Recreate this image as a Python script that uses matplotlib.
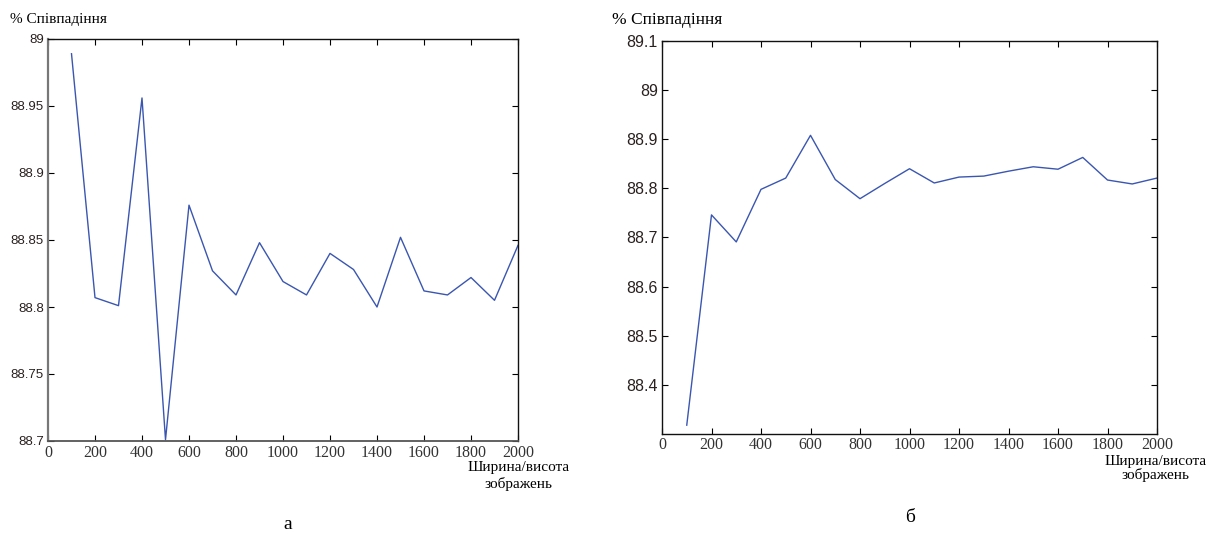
import matplotlib
matplotlib.use('Agg')
import matplotlib.pyplot as plt
import numpy as np

W, H = 1214, 535

sizes = list(range(100, 2001, 100))
match_a = [88.989, 88.807, 88.801, 88.956, 88.701, 88.876, 88.827, 88.809,
           88.848, 88.819, 88.809, 88.840, 88.828, 88.800, 88.852, 88.812,
           88.809, 88.822, 88.805, 88.846]
match_b = [88.318, 88.746, 88.691, 88.798, 88.821, 88.908, 88.818, 88.779,
           88.810, 88.840, 88.811, 88.823, 88.825, 88.835, 88.844, 88.839,
           88.863, 88.817, 88.809, 88.821]

xticks = list(range(0, 2001, 200))
yticks_a = [88.7, 88.75, 88.8, 88.85, 88.9, 88.95, 89.0]
ylabels_a = ['88.7', '88.75', '88.8', '88.85', '88.9', '88.95', '89']
yticks_b = [88.4, 88.5, 88.6, 88.7, 88.8, 88.9, 89.0, 89.1]
ylabels_b = ['88.4', '88.5', '88.6', '88.7', '88.8', '88.9', '89', '89.1']

serif = 'Liberation Serif'
sans = 'Liberation Sans'
line_col = '#3a56b0'


def px_box(l, t, r, b):
    return [l / W, 1 - b / H, (r - l) / W, (b - t) / H]


def style_axes(ax, yticks, ylabels, ylim, ysize, xpad=3):
    ax.set_xlim(0, 2000)
    ax.set_ylim(*ylim)
    ax.set_xticks(xticks)
    ax.set_xticklabels([str(t) for t in xticks], fontfamily=serif,
                       fontsize=11.5, color='#333333')
    ax.set_yticks(yticks)
    ax.set_yticklabels(ylabels, fontfamily=sans, fontsize=ysize,
                       color='#2a2020')
    ax.tick_params(direction='in', length=4, width=0.8, top=True,
                   right=True, pad=3)
    ax.tick_params(axis='x', pad=xpad)
    for s in ax.spines.values():
        s.set_linewidth(1.0)
        s.set_color('#111111')


fig = plt.figure(figsize=(W / 100, H / 100), dpi=100)

ax1 = fig.add_axes(px_box(48, 39, 518, 441))
ax1.plot(sizes, match_a, color=line_col, lw=1.0)
style_axes(ax1, yticks_a, ylabels_a, (88.7, 89.0), 9.5)
ax1.spines['left'].set_color('#777777')
ax1.spines['left'].set_linewidth(1.6)
ax1.spines['bottom'].set_color('#555555')
ax1.spines['bottom'].set_linewidth(1.3)

ax2 = fig.add_axes(px_box(662, 41, 1157, 434))
ax2.plot(sizes, match_b, color=line_col, lw=1.0)
style_axes(ax2, yticks_b, ylabels_b, (88.3, 89.1), 11.5, xpad=2)

fig.text(10 / W, 1 - 19 / H, '% Співпадіння', fontfamily=serif,
         fontsize=11, va='center', ha='left')
fig.text(612 / W, 1 - 20 / H, '% Співпадіння', fontfamily=serif,
         fontsize=12.5, va='center', ha='left')

fig.text(519 / W, 1 - 476 / H, 'Ширина/висота\nзображень', fontfamily=serif,
         fontsize=11, va='center', ha='center', linespacing=1.25)
fig.text(1156 / W, 1 - 469 / H, 'Ширина/висота\nзображень', fontfamily=serif,
         fontsize=11, va='center', ha='center', linespacing=1.0)

fig.text(288 / W, 1 - 529 / H, 'а', fontfamily=serif, fontsize=14,
         va='baseline', ha='center')
fig.text(910 / W, 1 - 522 / H, 'б', fontfamily=serif, fontsize=14,
         va='baseline', ha='center')

fig.savefig('out.png', dpi=100)
